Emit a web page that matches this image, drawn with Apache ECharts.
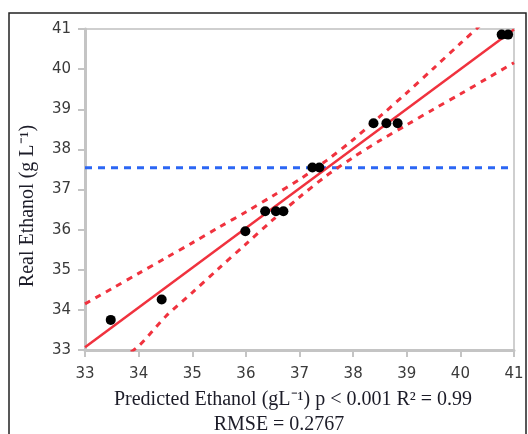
<!DOCTYPE html>
<html>
<head>
<meta charset="utf-8">
<title>Real vs Predicted Ethanol</title>
<script src="https://cdn.jsdelivr.net/npm/echarts@6.0.0/dist/echarts.min.js"></script>
<style>
    html, body { margin: 0; padding: 0; background: #fff; }
    #chart { width: 528px; height: 434px; }
</style>
</head>
<body>
<div id="chart"></div>
<script>
// 数据点 (预测值, 实测值)
var predicted = [33.48, 34.43, 35.99, 36.36, 36.56, 36.70, 37.24, 37.37, 38.38, 38.62, 38.83, 40.77, 40.89];
var measured  = [33.75, 34.26, 35.96, 36.46, 36.46, 36.46, 37.55, 37.55, 38.65, 38.65, 38.65, 40.86, 40.86];

// 拟合线两端
var fitX = [33, 41];
var fitY = [33.07, 40.99];

// 置信带
var bandX     = [33, 33.5, 34, 34.5, 35, 35.5, 36, 36.5, 37, 37.5, 38, 38.5, 39, 39.5, 40, 40.5, 41];
var bandUpper = [34.15, 34.53, 34.91, 35.29, 35.67, 36.06, 36.44, 36.84, 37.25, 37.72, 38.24, 38.82, 39.41, 40.02, 40.64, 41.25, 41.86];
var bandLower = [31.99, 32.61, 33.10, 33.83, 34.43, 35.04, 35.64, 36.24, 36.81, 37.34, 37.80, 38.22, 38.61, 39.00, 39.38, 39.77, 40.16];

// 实测均值线
var meanY = 37.54;

var axisTicks = [33, 34, 35, 36, 37, 38, 39, 40, 41];

$ = function(id){ return document.getElementById(id); };

initChart();

function pairs(xs, ys) {
    var arr = [];
    for (var i = 0; i < xs.length; i++) {
        arr.push([xs[i], ys[i]]);
    }
    return arr;
}

function initChart() {
    var chart = echarts.init($('chart'), null, { renderer: 'canvas' });
    var red = '#f0323e';
    var axisGray = '#c4c4c4';
    var textColor = '#1c1c28';
    var serif = '20px "Liberation Serif"';
    var labelStyle = { color: '#3a3a3a', fontFamily: 'DejaVu Sans', fontSize: 15 };

    chart.setOption({
        backgroundColor: '#fff',
        animation: false,
        grid: {
            left: 85, top: 29, right: 14, bottom: 84,
            show: true, borderColor: '#cfcfcf', borderWidth: 2
        },
        xAxis: {
            type: 'value',
            min: axisTicks[0], max: axisTicks[axisTicks.length - 1], interval: 1,
            axisLine: { show: true, onZero: false, lineStyle: { color: axisGray, width: 3 } },
            axisTick: { show: true, length: 7, lineStyle: { color: axisGray, width: 2 } },
            axisLabel: Object.assign({ margin: 17 }, labelStyle),
            splitLine: { show: false }
        },
        yAxis: {
            type: 'value',
            min: axisTicks[0], max: axisTicks[axisTicks.length - 1], interval: 1,
            axisLine: { show: true, onZero: false, lineStyle: { color: axisGray, width: 3 } },
            axisTick: { show: true, length: 7, lineStyle: { color: axisGray, width: 2 } },
            axisLabel: Object.assign({ margin: 14 }, labelStyle),
            splitLine: { show: false }
        },
        graphic: [
            {
                // 外框
                type: 'rect', silent: true,
                shape: { x: 9, y: 13, width: 517, height: 440 },
                style: { fill: null, stroke: '#222', lineWidth: 1.5 }
            },
            {
                type: 'text', x: 293, y: 400,
                style: {
                    text: 'Predicted Ethanol (gL\u207B\u00B9) p < 0.001 R\u00B2 = 0.99',
                    fill: textColor, font: serif, align: 'center', verticalAlign: 'middle'
                }
            },
            {
                type: 'text', x: 279, y: 425,
                style: {
                    text: 'RMSE = 0.2767',
                    fill: textColor, font: serif, align: 'center', verticalAlign: 'middle'
                }
            },
            {
                type: 'text', rotation: Math.PI / 2,
                x: 28, y: 206,
                style: {
                    text: 'Real Ethanol (g L\u207B\u00B9)',
                    fill: textColor, font: serif, align: 'center', verticalAlign: 'middle'
                }
            }
        ],
        series: [
            {
                name: 'mean', type: 'line', symbol: 'none',
                data: [[fitX[0], meanY], [fitX[1], meanY]],
                lineStyle: { color: '#2b66f4', width: 3, type: [7, 6] },
                z: 2
            },
            {
                name: 'upper', type: 'line', symbol: 'none', smooth: 0.3,
                data: pairs(bandX, bandUpper),
                lineStyle: { color: red, width: 3, type: [6, 6] },
                z: 3
            },
            {
                name: 'lower', type: 'line', symbol: 'none', smooth: 0.3,
                data: pairs(bandX, bandLower),
                lineStyle: { color: red, width: 3, type: [6, 6] },
                z: 3
            },
            {
                name: 'fit', type: 'line', symbol: 'none',
                data: pairs(fitX, fitY),
                lineStyle: { color: red, width: 2.5 },
                z: 4
            },
            {
                name: 'points', type: 'scatter',
                data: pairs(predicted, measured),
                symbolSize: 10,
                itemStyle: { color: '#000', opacity: 1 },
                z: 5
            }
        ]
    });
}
</script>
</body>
</html>
